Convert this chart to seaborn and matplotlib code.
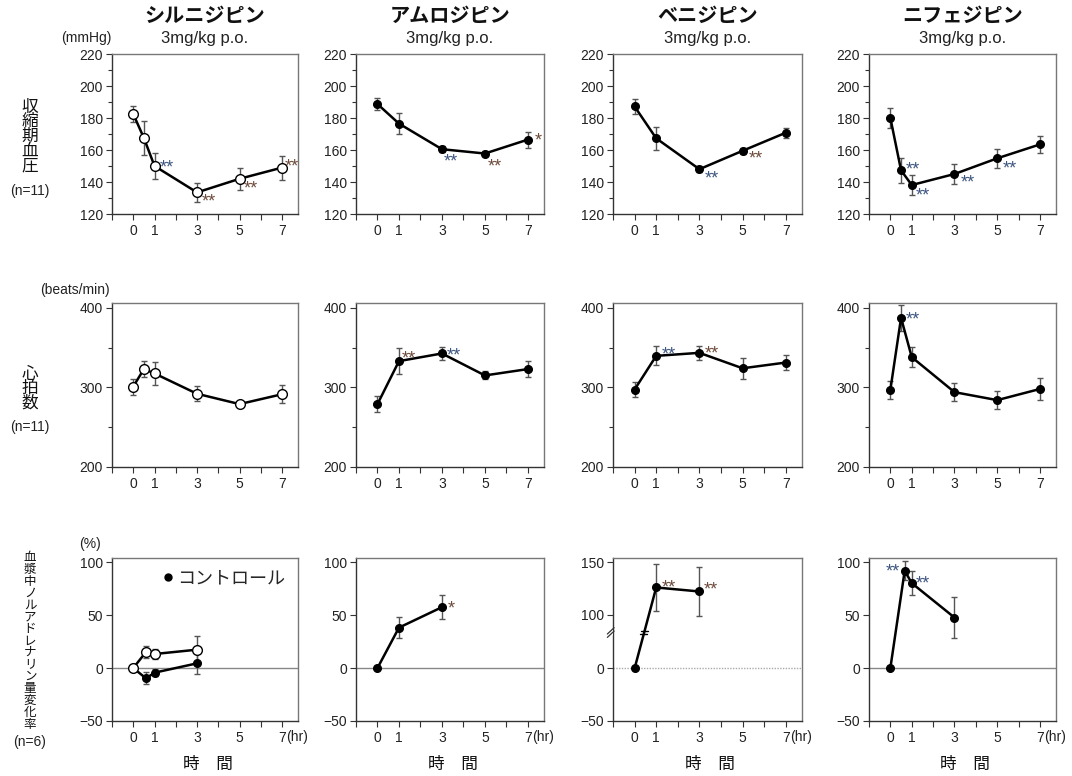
import numpy as np
import pandas as pd
import matplotlib
matplotlib.use("Agg")
import matplotlib.pyplot as plt
import seaborn as sns
from matplotlib.lines import Line2D
import matplotlib.transforms as mtransforms

# ---------------- data ----------------
drug_names = ["シルニジピン", "アムロジピン", "ベニジピン", "ニフェジピン"]
dose_label = "3mg/kg p.o."
row_labels = ["収縮期血圧", "心拍数", "血漿中ノルアドレナリン量変化率"]
row_n = ["(n=11)", "(n=11)", "(n=6)"]
row_units = ["(mmHg)", "(beats/min)", "(%)"]
xtick_labels = {0: "0", 1: "1", 3: "3", 5: "5", 7: "7"}

t6 = [0, 0.5, 1, 3, 5, 7]
t5 = [0, 1, 3, 5, 7]

# systolic blood pressure (mmHg)
sbp_cil = [182.5, 167.5, 150.0, 133.5, 142.0, 149.0]
sbp_cil_err = [5.0, 10.5, 8.0, 6.0, 7.0, 7.5]
sbp_aml = [188.7, 176.5, 160.5, 157.8, 166.5]
sbp_aml_err = [4.0, 6.5, 2.0, 1.5, 5.0]
sbp_ben = [187.2, 167.3, 148.0, 159.5, 170.8]
sbp_ben_err = [4.8, 7.0, 2.0, 2.0, 3.0]
sbp_nif = [180.0, 147.3, 138.1, 145.0, 154.8, 163.5]
sbp_nif_err = [6.5, 8.0, 6.0, 6.0, 6.0, 5.3]

# heart rate (beats/min)
hr_cil = [301.0, 323.0, 317.5, 292.0, 279.0, 291.4]
hr_cil_err = [10.0, 10.0, 14.0, 9.5, 2.0, 11.0]
hr_aml = [279.0, 333.0, 342.6, 315.0, 323.0]
hr_aml_err = [10.5, 16.7, 8.0, 5.0, 9.6]
hr_ben = [297.3, 339.6, 343.4, 324.0, 331.2]
hr_ben_err = [9.0, 12.0, 8.6, 13.4, 9.6]
hr_nif = [297.0, 387.4, 338.0, 294.0, 284.0, 298.0]
hr_nif_err = [11.0, 16.0, 13.0, 11.5, 11.5, 13.5]

# plasma noradrenaline change (%)
t_na_cil = [0, 0.6, 1, 3]
na_cil = [0.0, 15.1, 13.2, 17.3]
na_cil_err = [0.0, 6.0, 4.3, 12.5]
na_ctrl = [0.0, -9.8, -4.4, 4.4]
na_ctrl_err = [0.0, 5.7, 3.3, 10.4]
t_na3 = [0, 1, 3]
na_aml = [0.0, 38.1, 57.4]
na_aml_err = [0.0, 10.0, 11.6]
na_ben = [0.0, 125.8, 122.0]
na_ben_err = [0.0, 22.5, 23.5]
t_na_nif = [0, 0.67, 1, 3]
na_nif = [0.0, 91.8, 80.1, 47.6]
na_nif_err = [0.0, 9.0, 11.0, 19.4]

# significance marks: (row, col, x, y, text, dx_px, dy_px, color)
BLUE, BROWN = "#3d5580", "#6e4b3c"
stars = [
    (0, 0, 1, 150.0, "**", 5, 4, BLUE), (0, 0, 3, 133.5, "**", 5, -4, BROWN),
    (0, 0, 5, 142.0, "**", 4, -5, BROWN), (0, 0, 7, 149.0, "**", 3, 6, BROWN),
    (0, 1, 3, 160.5, "**", 2, -7, BLUE), (0, 1, 5, 157.8, "**", 3, -8, BROWN),
    (0, 1, 7, 166.5, "*", 7, 4, BROWN),
    (0, 2, 3, 148.0, "**", 5, -4, BLUE), (0, 2, 5, 159.5, "**", 6, -3, BROWN),
    (0, 3, 0.5, 147.3, "**", 5, 6, BLUE), (0, 3, 1, 138.1, "**", 4, -5, BLUE),
    (0, 3, 3, 145.0, "**", 6, -3, BLUE), (0, 3, 5, 154.8, "**", 5, -5, BLUE),
    (1, 1, 1, 333.0, "**", 3, 8, BROWN), (1, 1, 3, 342.6, "**", 5, 3, BLUE),
    (1, 2, 1, 339.6, "**", 5, 6, BLUE), (1, 2, 3, 343.4, "**", 5, 4, BROWN),
    (1, 3, 0.5, 387.4, "**", 5, 3, BLUE),
    (2, 1, 3, 57.4, "*", 6, 4, BROWN),
    (2, 2, 1, 125.8, "**", 5, 5, BROWN), (2, 2, 3, 122.0, "**", 4, 7, BROWN),
    (2, 3, 0.67, 91.8, "**", -19, 4, BLUE), (2, 3, 1, 80.1, "**", 4, 5, BLUE),
]

series = [
    [[(t6, sbp_cil, sbp_cil_err, True)], [(t5, sbp_aml, sbp_aml_err, False)],
     [(t5, sbp_ben, sbp_ben_err, False)], [(t6, sbp_nif, sbp_nif_err, False)]],
    [[(t6, hr_cil, hr_cil_err, True)], [(t5, hr_aml, hr_aml_err, False)],
     [(t5, hr_ben, hr_ben_err, False)], [(t6, hr_nif, hr_nif_err, False)]],
    [[(t_na_cil, na_ctrl, na_ctrl_err, False), (t_na_cil, na_cil, na_cil_err, True)],
     [(t_na3, na_aml, na_aml_err, False)],
     [(t_na3, na_ben, na_ben_err, False)],
     [(t_na_nif, na_nif, na_nif_err, False)]],
]

# ---------------- style ----------------
sns.set_style("ticks")
plt.rcParams["font.family"] = ["Liberation Sans", "Noto Sans CJK JP", "DejaVu Sans"]
plt.rcParams["axes.unicode_minus"] = True

W, H = 1072, 776
fig = plt.figure(figsize=(W / 100, H / 100), dpi=100)

col_left = [112, 356, 613, 869]
col_w = [186, 188, 189, 187]
row_top = [54, 303, 558]
row_h = [160, 164, 163]


def ftxt(x, y, s, **kw):
    return fig.text(x / W, 1 - y / H, s, **kw)


# broken-axis scale for ベニジピン noradrenaline panel
B0, B1, S = 40.0, 90.0, 0.02
GAP = (B1 - B0) * (1 - S)


def fwd(y):
    y = np.asarray(y, dtype=float)
    return np.where(y <= B0, y, np.where(y < B1, B0 + (y - B0) * S, y - GAP))


def inv(d):
    d = np.asarray(d, dtype=float)
    return np.where(d <= B0, d, np.where(d < B0 + (B1 - B0) * S, B0 + (d - B0) / S, d + GAP))


def draw_series(ax, t, v, e, hollow):
    ax.errorbar(t, v, yerr=e, fmt="none", ecolor="#555555", elinewidth=1.0,
                capsize=2.5, capthick=1.0, zorder=2)
    df = pd.DataFrame({"t": t, "v": v})
    sns.lineplot(data=df, x="t", y="v", ax=ax, color="black", lw=1.8,
                 marker="o", markersize=7 if hollow else 5.5,
                 markerfacecolor="white" if hollow else "black",
                 markeredgecolor="black", markeredgewidth=1.0,
                 errorbar=None, zorder=3)


axes = [[None] * 4 for _ in range(3)]
for r in range(3):
    for c in range(4):
        ax = fig.add_axes([col_left[c] / W, 1 - (row_top[r] + row_h[r]) / H,
                           col_w[c] / W, row_h[r] / H])
        axes[r][c] = ax
        if r == 2 and c == 2:
            ax.set_yscale("function", functions=(fwd, inv))
        for (t, v, e, hollow) in series[r][c]:
            draw_series(ax, t, v, e, hollow)
        ax.set_xlabel("")
        ax.set_ylabel("")
        ax.set_xlim(-1, 7.75)
        ax.set_xticks(range(-1, 8))
        ax.set_xticklabels([xtick_labels.get(i, "") for i in range(-1, 8)])
        if r == 0:
            ax.set_ylim(120, 220)
            ax.set_yticks(np.arange(120, 221, 20))
            ax.set_yticks(np.arange(130, 220, 20), minor=True)
        elif r == 1:
            ax.set_ylim(200, 406)
            ax.set_yticks([200, 300, 400])
            ax.set_yticks([250, 350], minor=True)
        else:
            if c == 2:
                ax.set_ylim(-50, 153.8)
                ax.set_yticks([-50, 0, 100, 150])
                ax.axhline(0, color="#aaaaaa", lw=1.0, ls=(0, (1, 1)), zorder=1)
            else:
                ax.set_ylim(-50, 103.8)
                ax.set_yticks([-50, 0, 50, 100])
                ax.axhline(0, color="#888888", lw=1.0, zorder=1)
        ax.tick_params(which="major", direction="out", length=4, width=0.8,
                       color="#333333", labelsize=10, labelcolor="#222222")
        ax.tick_params(which="minor", direction="out", length=3, width=0.8, color="#333333")
        ax.tick_params(axis="y", pad=2.5)
        ax.tick_params(axis="x", pad=3)
        for side in ["left", "bottom"]:
            ax.spines[side].set_color("#333333")
            ax.spines[side].set_linewidth(1.0)
        for side in ["top", "right"]:
            ax.spines[side].set_visible(True)
            ax.spines[side].set_color("#777777")
            ax.spines[side].set_linewidth(1.0)
        if r == 2:
            ax.annotate("(hr)", xy=(7, 0), xycoords=ax.get_xaxis_transform(),
                        xytext=(4, -9.5), textcoords="offset pixels",
                        ha="left", va="top", fontsize=10, color="#222222")
            ax.text(3.5, -0.22, "時　間", transform=ax.get_xaxis_transform(),
                    ha="center", va="top", fontsize=12, color="#111111")

# significance marks
for (r, c, x, y, s, dx, dy, col) in stars:
    axes[r][c].annotate(s, xy=(x, y), xytext=(dx, dy - 10), textcoords="offset pixels",
                        ha="left", va="baseline", fontsize=13, color=col, zorder=5)

# break marks on ベニジピン NA panel
axb = axes[2][2]
y_brk = 34.0
tb, vb = t_na3, na_ben
x_cross = tb[0] + (fwd(y_brk) - fwd(vb[0])) / (fwd(vb[1]) - fwd(vb[0])) * (tb[1] - tb[0])
for dyv in (-1.6, 1.6):
    xc = x_cross + dyv / (float(fwd(vb[1])) - float(fwd(vb[0]))) * (tb[1] - tb[0])
    axb.plot([xc - 0.17, xc + 0.17], [y_brk + dyv, y_brk + dyv], color="black", lw=1.0, zorder=4)
bt = mtransforms.blended_transform_factory(axb.transAxes, axb.transData)
axb.plot([-0.012, -0.012], [y_brk - 1.6, y_brk + 1.6], color="white", lw=3,
         transform=bt, clip_on=False, zorder=6)
for dyv in (-1.6, 1.6):
    axb.plot([-0.03, 0.006], [y_brk + dyv - 3, y_brk + dyv + 3], color="#333333", lw=0.9,
             transform=bt, clip_on=False, zorder=7)

# legend
axes[2][0].legend(handles=[Line2D([], [], ls="", marker="o", color="black", ms=5)],
                  labels=["コントロール"], loc="upper right", frameon=False,
                  fontsize=13, handlelength=0.6, handletextpad=0.2,
                  borderaxespad=0.3)

# column titles
for c in range(4):
    cx = col_left[c] + col_w[c] / 2
    ftxt(cx, 16, drug_names[c], ha="center", va="center", fontsize=14.5,
         fontweight="bold", color="#111111")
    ftxt(cx, 39, dose_label, ha="center", va="center", fontsize=12, color="#222222")

# units
ftxt(86, 38, row_units[0], ha="center", va="center", fontsize=10, color="#222222")
ftxt(75, 290, row_units[1], ha="center", va="center", fontsize=10, color="#222222")
ftxt(90, 544, row_units[2], ha="center", va="center", fontsize=10, color="#222222")

# vertical row labels
label_specs = [(107.3, 14.6, 12, 191), (374, 14.3, 12, 427), (558, 11.9, 9, 742)]
for lab, (y0, pitch, fs, yn), ntxt in zip(row_labels, label_specs, row_n):
    for i, ch in enumerate(lab):
        ftxt(30, y0 + i * pitch, ch, ha="center", va="center", fontsize=fs, color="#111111")
    ftxt(30, yn, ntxt, ha="center", va="center", fontsize=10, color="#222222")

fig.savefig("out.png", dpi=100)
